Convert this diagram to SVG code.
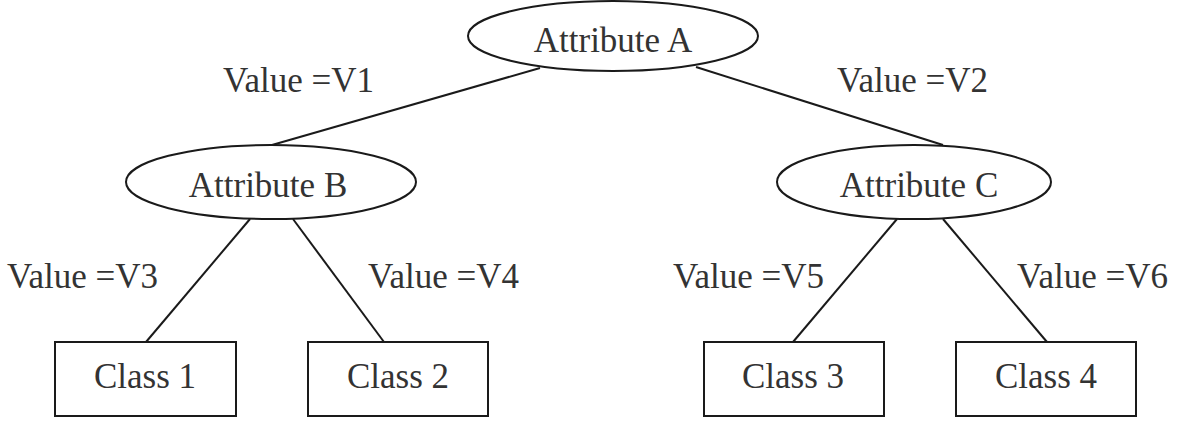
<svg xmlns="http://www.w3.org/2000/svg" width="1177" height="431" viewBox="0 0 1177 431">
<style>
.shape{fill:#fff;stroke:#1a1a1a;stroke-width:2}
.edge{stroke:#1a1a1a;stroke-width:2;fill:none}
text{font-family:"Liberation Serif","Times New Roman",serif;font-size:35px;fill:#333}
.c{text-anchor:middle}
</style>
<rect width="1177" height="431" fill="#fff"/>
<g id="connectors">
<line class="edge" x1="540" y1="68" x2="272" y2="145"/>
<line class="edge" x1="696" y1="67" x2="943" y2="145"/>
<line class="edge" x1="250" y1="219" x2="146" y2="342"/>
<line class="edge" x1="293" y1="219" x2="384" y2="342"/>
<line class="edge" x1="897" y1="219" x2="793" y2="342"/>
<line class="edge" x1="943" y1="219" x2="1047" y2="342"/>
</g>
<g id="labels">
<text x="223" y="92">Value =V1</text>
<text x="837" y="92">Value =V2</text>
<text x="7" y="288">Value =V3</text>
<text x="368" y="288">Value =V4</text>
<text x="673" y="288">Value =V5</text>
<text x="1017" y="288">Value =V6</text>
</g>
<g id="attrA"><ellipse class="shape" cx="613" cy="36" rx="145" ry="35"/><text class="c" x="613" y="52">Attribute A</text></g>
<g id="attrB"><ellipse class="shape" cx="271" cy="182" rx="145" ry="37"/><text class="c" x="268" y="197">Attribute B</text></g>
<g id="attrC"><ellipse class="shape" cx="914" cy="182" rx="137" ry="37"/><text class="c" x="919" y="197">Attribute C</text></g>
<g id="class1"><rect class="shape" x="55" y="342" width="181" height="74"/><text class="c" x="145" y="388">Class 1</text></g>
<g id="class2"><rect class="shape" x="308" y="342" width="180" height="74"/><text class="c" x="398" y="388">Class 2</text></g>
<g id="class3"><rect class="shape" x="704" y="342" width="180" height="74"/><text class="c" x="793" y="388">Class 3</text></g>
<g id="class4"><rect class="shape" x="956" y="342" width="180" height="74"/><text class="c" x="1046" y="388">Class 4</text></g>
</svg>
